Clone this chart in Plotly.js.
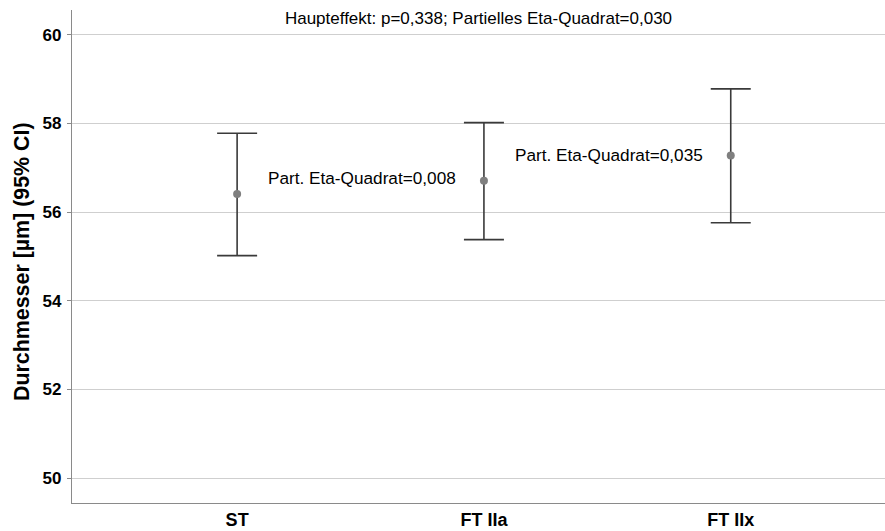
<!DOCTYPE html>
<html><head><meta charset="utf-8">
<script src="https://cdn.plot.ly/plotly-3.0.1.min.js"></script>
<style>html,body{margin:0;padding:0;background:#fff}#chart{width:885px;height:531px}</style>
</head><body><div id="chart"></div>
<script>
const categories = ['ST', 'FT IIa', 'FT IIx'];
const means = [56.41, 56.71, 57.28];
const upperCI = [57.78, 58.02, 58.78];
const lowerCI = [55.02, 55.38, 55.76];
const etaLabels = ['Part. Eta-Quadrat=0,008', 'Part. Eta-Quadrat=0,035'];
const etaAt = [1, 2];
const etaY = [56.77, 57.29];
const mainTitle = 'Haupteffekt: p=0,338; Partielles Eta-Quadrat=0,030';
const yTitle = 'Durchmesser [µm] (95% CI)';
const yTicks = [50, 52, 54, 56, 58, 60];

const xIdx = categories.map((c, i) => i);
const trace = {
  x: xIdx, y: means, type: 'scatter', mode: 'markers',
  marker: {color: '#7f7f7f', size: 8},
  error_y: {type: 'data', symmetric: false,
    array: upperCI.map((u, i) => u - means[i]),
    arrayminus: means.map((m, i) => m - lowerCI[i]),
    color: '#3a3a3a', thickness: 1.6, width: 20},
  hoverinfo: 'none', showlegend: false
};
const font = 'Liberation Sans, Arial, sans-serif';
const annotations = etaLabels.map((t, i) => ({
  x: etaAt[i] - 0.883, y: etaY[i], xref: 'x', yref: 'y', text: t, showarrow: false,
  xanchor: 'left', yanchor: 'middle', font: {family: font, size: 17.2, color: '#000'}
}));
annotations.push({
  x: 0, xref: 'paper', xshift: -50, xanchor: 'center',
  y: 0.4888, yref: 'paper', yanchor: 'middle', textangle: -90,
  text: '<b>' + yTitle + '</b>', showarrow: false,
  font: {family: font, size: 21.4, color: '#000'}
});

const layout = {
  width: 885, height: 531,
  margin: {l: 72, r: 0, t: 10, b: 28},
  paper_bgcolor: '#fff', plot_bgcolor: '#fff',
  title: {text: mainTitle, font: {family: font, size: 17, color: '#000'},
    x: 0.5, xref: 'paper', y: 1 - 18/531, yanchor: 'middle'},
  xaxis: {range: [-0.669, 2.625], tickvals: xIdx, ticktext: categories,
    showgrid: false, zeroline: false, showline: true, linecolor: '#8a8a8a', linewidth: 1.2,
    ticks: '', tickfont: {family: font, size: 18, color: '#000', weight: 'bold'}, fixedrange: true},
  yaxis: {range: [49.44, 60.56], tickvals: yTicks, ticktext: yTicks.map(String),
    showgrid: true, gridcolor: '#cfcfcf', gridwidth: 1.3, zeroline: false,
    showline: true, linecolor: '#8a8a8a', linewidth: 1.2,
    ticks: 'outside', ticklen: 4, tickcolor: '#8a8a8a', ticklabelstandoff: 2,
    tickfont: {family: font, size: 17, color: '#000', weight: 'bold'}},
  annotations: annotations
};
Plotly.newPlot('chart', [trace], layout, {displayModeBar: false, staticPlot: true});
</script></body></html>
